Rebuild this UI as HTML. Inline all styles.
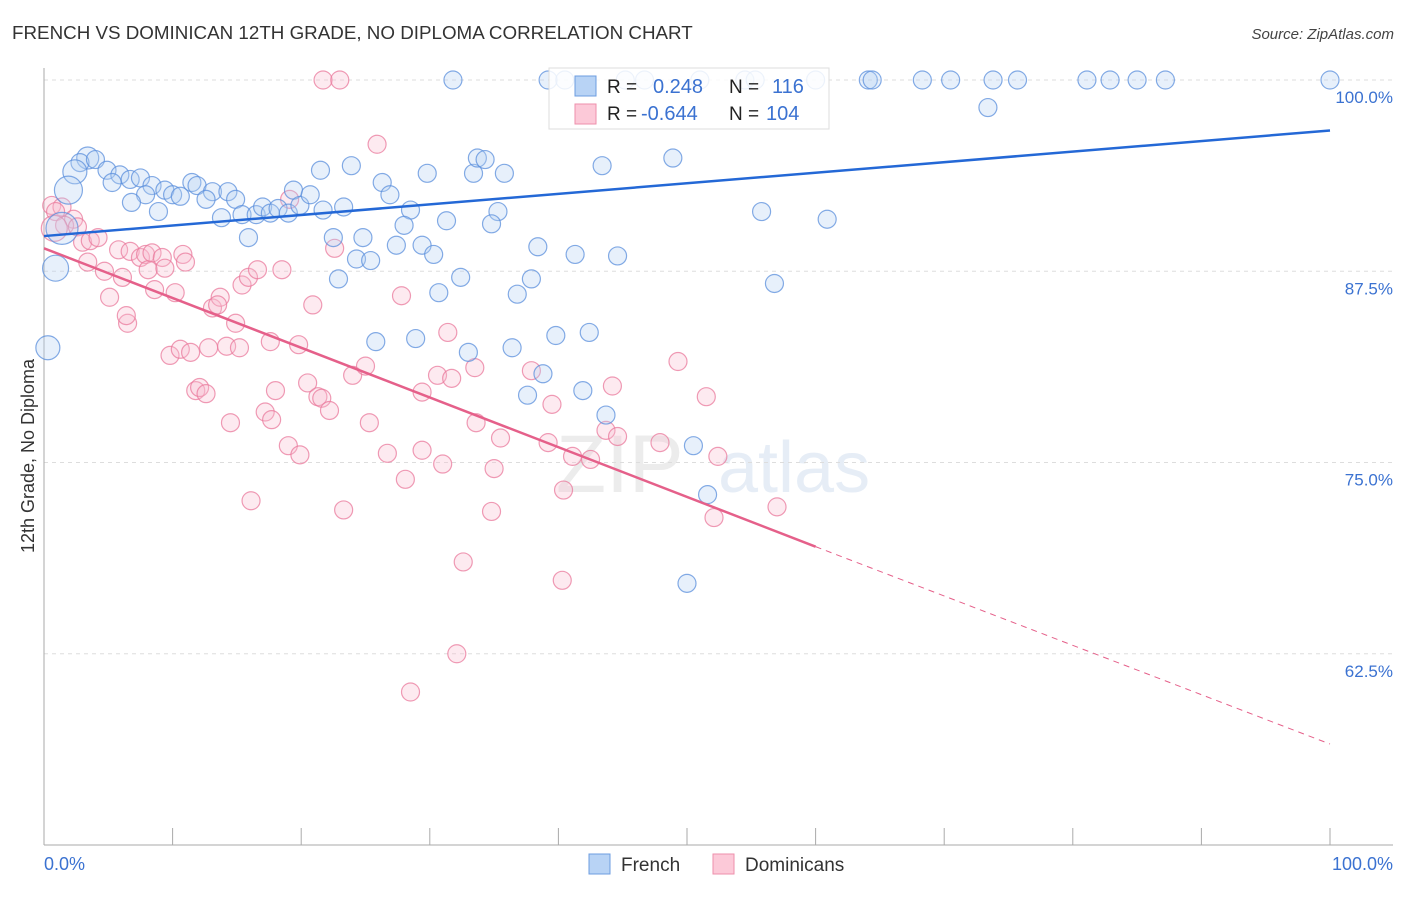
<!DOCTYPE html>
<html><head><meta charset="utf-8">
<style>
body{margin:0;background:#fff;font-family:"Liberation Sans",sans-serif;}
svg text{font-family:"Liberation Sans",sans-serif;}
</style></head>
<body>
<svg id="chart" width="1406" height="892" viewBox="0 0 1406 892" xmlns="http://www.w3.org/2000/svg">
<text x="12" y="39" font-size="18.8" fill="#333">FRENCH VS DOMINICAN 12TH GRADE, NO DIPLOMA CORRELATION CHART</text>
<text x="1394" y="39" font-size="15" fill="#444" text-anchor="end" font-style="italic">Source: ZipAtlas.com</text>
<g opacity="0.35">
<text x="556" y="492" font-size="82" font-family="Liberation Serif" fill="#c9c9c9">ZIP</text>
<text x="718" y="492" font-size="72" fill="#b9cde8">atlas</text>
</g>
<g id="grid"></g>
<g id="axes"></g>
<g id="pinkPts"></g>
<g id="bluePts"></g>
<g id="lines"></g>
<g>
<rect x="549" y="68" width="280" height="61" fill="#fff" fill-opacity="0.85" stroke="#ddd"/>
<rect x="575" y="76" width="21" height="20" fill="#b8d3f5" stroke="#6d9de0"/>
<rect x="575" y="104" width="21" height="20" fill="#fcc9d8" stroke="#ee8fab"/>
<text x="607" y="93" font-size="19" fill="#222">R =</text>
<text x="653" y="93" font-size="20" fill="#3b72d1">0.248</text>
<text x="729" y="93" font-size="19" fill="#222">N =</text>
<text x="772" y="93" font-size="20" fill="#3b72d1">116</text>
<text x="607" y="120" font-size="19" fill="#222">R =</text>
<text x="641" y="120" font-size="20" fill="#3b72d1">-0.644</text>
<text x="729" y="120" font-size="19" fill="#222">N =</text>
<text x="766" y="120" font-size="20" fill="#3b72d1">104</text>
</g>
<g>
<rect x="589" y="854" width="21" height="20" fill="#b8d3f5" stroke="#6d9de0"/>
<text x="621" y="871" font-size="19" fill="#333">French</text>
<rect x="713" y="854" width="21" height="20" fill="#fcc9d8" stroke="#ee8fab"/>
<text x="745" y="871" font-size="19" fill="#333">Dominicans</text>
</g>
<text transform="translate(34,456) rotate(-90)" font-size="18" fill="#333" text-anchor="middle">12th Grade, No Diploma</text>
</svg>
<script>
const yTicks=[100,87.5,75,62.5];
const yTickLabels=["100.0%","87.5%","75.0%","62.5%"];
const xTicks=[0,10,20,30,40,50,60,70,80,90,100];
const xEndLabels=["0.0%","100.0%"];
const frenchTop=[31.8,39.2,40.5,45.2,46.7,51.0,54.5,55.3,60.0,64.1,64.4,68.3,70.5,73.8,75.7,81.1,82.9,85.0,87.2,100];
const frenchPts=[[3.4,94.9,11],[2.8,94.6],[4.0,94.8],[2.4,94.0,12],[1.9,92.8,14],[4.9,94.1],[5.9,93.8],[5.3,93.3],[6.7,93.5],[7.5,93.6],[8.4,93.1],[9.4,92.8],[10.0,92.5],[10.6,92.4],[7.9,92.5],[6.8,92.0],[8.9,91.4],[11.5,93.3],[11.9,93.1],[13.1,92.7],[14.3,92.7],[12.6,92.2],[14.9,92.2],[13.8,91.0],[15.9,89.7],[15.4,91.2],[16.5,91.2],[17.0,91.7],[17.6,91.3],[18.2,91.6],[19.0,91.3],[19.4,92.8],[19.9,91.8],[20.7,92.5],[21.7,91.5],[21.5,94.1],[23.3,91.7],[23.9,94.4],[26.3,93.3],[26.9,92.5],[28.5,91.5],[28.0,90.5],[29.8,93.9],[31.3,90.8],[33.4,93.9],[33.7,94.9],[34.3,94.8],[35.8,93.9],[35.3,91.4],[34.8,90.6],[43.4,94.4],[48.9,94.9],[55.8,91.4],[60.9,90.9],[22.5,89.7],[24.8,89.7],[24.3,88.3],[25.4,88.2],[27.4,89.2],[29.4,89.2],[30.3,88.6],[32.4,87.1],[30.7,86.1],[22.9,87.0],[38.4,89.1],[41.3,88.6],[44.6,88.5],[37.9,87.0],[36.8,86.0],[56.8,86.7],[0.9,87.7,13],[0.3,82.5,12],[25.8,82.9],[28.9,83.1],[33.0,82.2],[36.4,82.5],[39.8,83.3],[42.4,83.5],[38.8,80.8],[37.6,79.4],[41.9,79.7],[43.7,78.1],[50.5,76.1],[51.6,72.9],[50.0,67.1],[73.4,98.2],[1.4,90.3,16]];
const domPts=[[21.7,100],[23.0,100],[25.9,95.8],[0.6,91.8],[1.4,91.7],[0.9,91.4],[2.3,90.9],[1.6,90.5],[2.6,90.4],[3.0,89.4],[3.6,89.5],[4.2,89.7],[3.4,88.1],[4.7,87.5],[5.1,85.8],[5.8,88.9],[6.1,87.1],[6.7,88.8],[6.5,84.1],[7.5,88.4],[7.9,88.6],[8.1,87.6],[8.4,88.7],[8.6,86.3],[9.2,88.4],[9.4,87.7],[10.2,86.1],[10.8,88.6],[11.0,88.1],[6.4,84.6],[9.8,82.0],[10.6,82.4],[11.4,82.2],[12.8,82.5],[13.1,85.1],[13.7,85.8],[13.5,85.3],[14.2,82.6],[14.9,84.1],[15.2,82.5],[15.4,86.6],[15.9,87.1],[16.6,87.6],[18.5,87.6],[17.6,82.9],[19.1,92.2],[19.8,82.7],[20.9,85.3],[22.6,89.0],[11.8,79.7],[12.1,79.9],[12.6,79.5],[14.5,77.6],[17.2,78.3],[17.7,77.8],[18.0,79.7],[19.0,76.1],[19.9,75.5],[20.5,80.2],[21.3,79.3],[21.6,79.2],[22.2,78.4],[24.0,80.7],[25.0,81.3],[25.3,77.6],[26.7,75.6],[27.8,85.9],[28.1,73.9],[29.4,79.6],[29.4,75.8],[30.6,80.7],[31.0,74.9],[31.4,83.5],[31.7,80.5],[33.6,77.6],[33.5,81.2],[35.0,74.6],[35.5,76.6],[37.9,81.0],[39.2,76.3],[39.5,78.8],[41.1,75.4],[40.4,73.2],[42.5,75.2],[43.7,77.1],[44.2,80.0],[44.6,76.7],[47.9,76.3],[49.3,81.6],[51.5,79.3],[52.4,75.4],[52.1,71.4],[57.0,72.1],[16.1,72.5],[23.3,71.9],[34.8,71.8],[32.6,68.5],[40.3,67.3],[32.1,62.5],[28.5,60.0],[0.8,90.3,13]];
const frenchTrend=[[0,89.8],[100,96.7]];
const domTrend=[[0,89.0],[60,69.5],[100,56.6]];

const NS="http://www.w3.org/2000/svg";
const X0=44,X1=1330,Y100=80,YPER=15.3;
function sx(v){return X0+(X1-X0)*v/100;}
function sy(v){return Y100+(100-v)*YPER;}
function mk(tag,attrs,parent){const e=document.createElementNS(NS,tag);for(const k in attrs)e.setAttribute(k,attrs[k]);parent.appendChild(e);return e;}
const grid=document.getElementById('grid'),axes=document.getElementById('axes');
yTicks.forEach((t,i)=>{
  const l=mk('line',{x1:X0,x2:1393,y1:sy(t),y2:sy(t),stroke:'#ddd','stroke-dasharray':'4,4'},grid);
  
  
  const tx=mk('text',{x:1393,y:sy(t)+23,'font-size':17,fill:'#3b72d1','text-anchor':'end'},axes);
  tx.textContent=yTickLabels[i];
  
  
});
const ya=mk('line',{x1:X0,x2:X0,y1:68,y2:845,stroke:'#aaa'},axes);


const xa=mk('line',{x1:X0,x2:1393,y1:845,y2:845,stroke:'#aaa'},axes);


xTicks.forEach(t=>{
  const l=mk('line',{x1:sx(t),x2:sx(t),y1:828,y2:845,stroke:'#aaa'},axes);
  
  
});
const xl0=mk('text',{x:44,y:870,'font-size':18,fill:'#3b72d1'},axes);xl0.textContent=xEndLabels[0];


const xl1=mk('text',{x:1393,y:870,'font-size':18,fill:'#3b72d1','text-anchor':'end'},axes);xl1.textContent=xEndLabels[1];



function dot(p,g,fill,stroke,name){
  const c=mk('circle',{cx:sx(p[0]),cy:sy(p[1]),r:p[2]||9,fill:fill,'fill-opacity':0.32,stroke:stroke,'stroke-width':1.2,'stroke-opacity':0.75},g);
  
  
}
const pg=document.getElementById('pinkPts'),bg=document.getElementById('bluePts');
domPts.forEach(p=>dot(p,pg,'#f9bdd0','#e97a9c','dominican-point'));
frenchTop.forEach(x=>dot([x,100],bg,'#b3cff3','#5b8fdc','french-point'));
frenchPts.forEach(p=>dot(p,bg,'#b3cff3','#5b8fdc','french-point'));

const lg=document.getElementById('lines');
const bl=mk('line',{x1:sx(frenchTrend[0][0]),y1:sy(frenchTrend[0][1]),x2:sx(frenchTrend[1][0]),y2:sy(frenchTrend[1][1]),stroke:'#2468d6','stroke-width':2.5},lg);


const pl=mk('line',{x1:sx(domTrend[0][0]),y1:sy(domTrend[0][1]),x2:sx(domTrend[1][0]),y2:sy(domTrend[1][1]),stroke:'#e5608a','stroke-width':2.5},lg);


const pd=mk('line',{x1:sx(domTrend[1][0]),y1:sy(domTrend[1][1]),x2:sx(domTrend[2][0]),y2:sy(domTrend[2][1]),stroke:'#e5608a','stroke-width':1,'stroke-dasharray':'6,5'},lg);


</script>
</body></html>
